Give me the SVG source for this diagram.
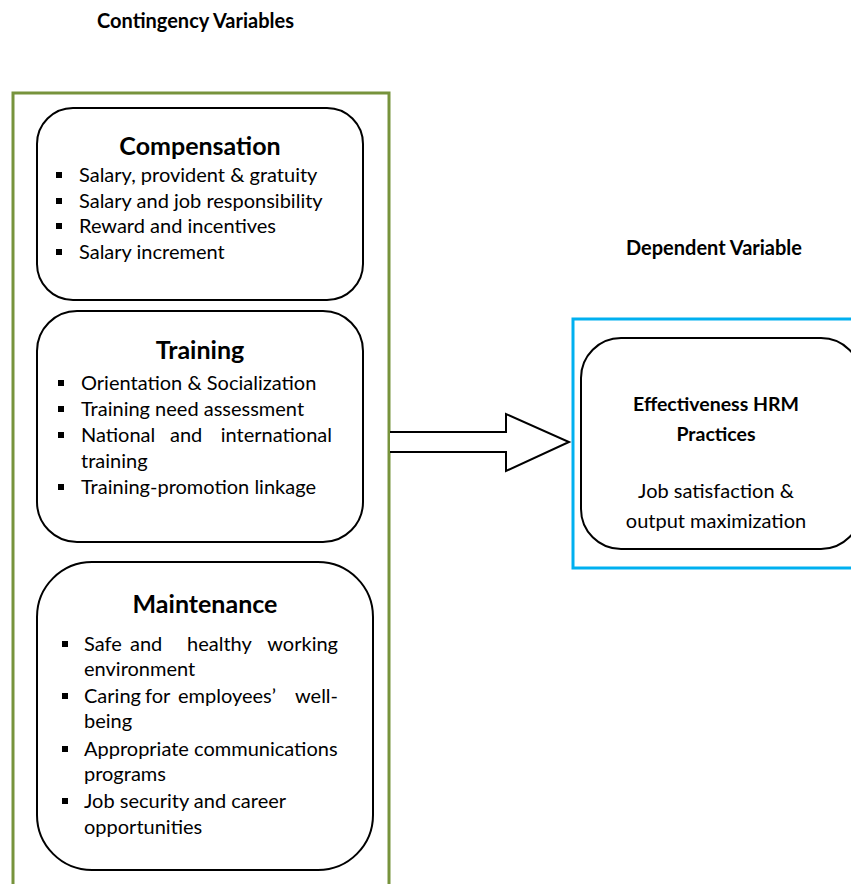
<svg xmlns="http://www.w3.org/2000/svg" width="851" height="884" viewBox="0 0 851 884">
<style>
text{font-family:Lato,"Open Sans","Liberation Sans",sans-serif;fill:#000}
.h{font-weight:bold;font-size:20px}
.t{font-weight:bold;font-size:25px;text-anchor:middle}
.i{font-size:20px}
.box{fill:#fff;stroke:#000;stroke-width:2}
.b{fill:#000}
</style>
<rect width="851" height="884" fill="#fff"/>
<text class="h" x="97" y="28">Contingency Variables</text>
<text class="h" x="626" y="255">Dependent Variable</text>
<rect x="13" y="93" width="376" height="800" fill="none" stroke="#77933C" stroke-width="3"/>
<rect x="573" y="319" width="290" height="249" fill="none" stroke="#00B0F0" stroke-width="3"/>
<g id="connectors">
<path d="M390,432 H506 V414 L569,442 L506,471 V452 H390" fill="#fff" stroke="#000" stroke-width="2"/>
</g>
<g id="compensation">
<rect class="box" x="37" y="108" width="326" height="192" rx="36"/>
<text class="t" x="200" y="155">Compensation</text>
<rect class="b" x="56" y="172" width="6" height="6"/>
<rect class="b" x="56" y="198" width="6" height="6"/>
<rect class="b" x="56" y="223" width="6" height="6"/>
<rect class="b" x="56" y="249" width="6" height="6"/>
<text class="i" x="79" y="182">Salary, provident &amp; gratuity</text>
<text class="i" x="79" y="208">Salary and job responsibility</text>
<text class="i" x="79" y="233">Reward and incentives</text>
<text class="i" x="79" y="259">Salary increment</text>
</g>
<g id="training">
<rect class="box" x="37" y="311" width="326" height="231" rx="40"/>
<text class="t" x="200" y="359">Training</text>
<rect class="b" x="58" y="380" width="6" height="6"/>
<rect class="b" x="58" y="406" width="6" height="6"/>
<rect class="b" x="58" y="432" width="6" height="6"/>
<rect class="b" x="58" y="484" width="6" height="6"/>
<text class="i" x="81" y="390">Orientation &amp; Socialization</text>
<text class="i" x="81" y="416">Training need assessment</text>
<text class="i" x="81" y="442">National</text>
<text class="i" x="170" y="442">and</text>
<text class="i" x="332" y="442" text-anchor="end">international</text>
<text class="i" x="81" y="468">training</text>
<text class="i" x="81" y="494">Training-promotion linkage</text>
</g>
<g id="maintenance">
<rect class="box" x="37" y="562" width="336" height="308" rx="55"/>
<text class="t" x="205" y="613">Maintenance</text>
<rect class="b" x="62" y="641" width="6" height="6"/>
<rect class="b" x="62" y="693" width="6" height="6"/>
<rect class="b" x="62" y="746" width="6" height="6"/>
<rect class="b" x="62" y="798" width="6" height="6"/>
<text class="i" x="84" y="651">Safe</text>
<text class="i" x="130" y="651">and</text>
<text class="i" x="187" y="651">healthy</text>
<text class="i" x="338" y="651" text-anchor="end">working</text>
<text class="i" x="84" y="676">environment</text>
<text class="i" x="84" y="703">Caring</text>
<text class="i" x="145" y="703">for</text>
<text class="i" x="178" y="703">employees’</text>
<text class="i" x="338" y="703" text-anchor="end">well-</text>
<text class="i" x="84" y="728">being</text>
<text class="i" x="84" y="756">Appropriate communications</text>
<text class="i" x="84" y="781">programs</text>
<text class="i" x="84" y="808">Job security and career</text>
<text class="i" x="84" y="834">opportunities</text>
</g>
<g id="effectiveness">
<rect class="box" x="581" y="338" width="280" height="211" rx="40"/>
<text x="716" y="411" text-anchor="middle" font-weight="bold" font-size="19.5">Effectiveness HRM</text>
<text x="716" y="441" text-anchor="middle" font-weight="bold" font-size="19.5">Practices</text>
<text class="i" x="716" y="498" text-anchor="middle">Job satisfaction &amp;</text>
<text class="i" x="716" y="528" text-anchor="middle">output maximization</text>
</g>
</svg>
